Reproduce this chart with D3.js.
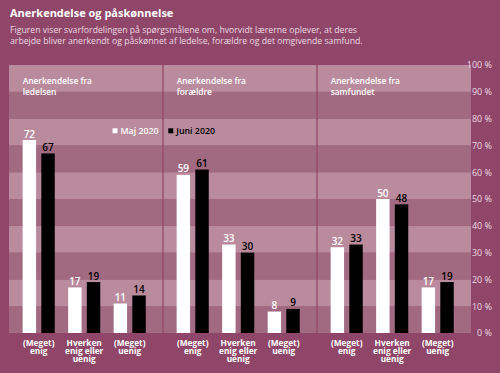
<!DOCTYPE html>
<html>
<head>
<meta charset="utf-8">
<script src="https://cdn.jsdelivr.net/npm/d3@7"></script>
<style>
  html, body { margin: 0; padding: 0; background: #8f4669; }
  svg { display: block; }
  text { font-family: "Open Sans", "Noto Sans", sans-serif; }
</style>
</head>
<body>
<svg id="chart" width="500" height="373"></svg>
<script>
// ---- Data ----
const panels = ["Anerkendelse fra ledelsen", "Anerkendelse fra forældre", "Anerkendelse fra samfundet"];
const panelTitleLines = [["Anerkendelse fra", "ledelsen"], ["Anerkendelse fra", "forældre"], ["Anerkendelse fra", "samfundet"]];
const categories = ["(Meget) enig", "Hverken enig eller uenig", "(Meget) uenig"];
const categoryLines = [["(Meget)", "enig"], ["Hverken", "enig eller", "uenig"], ["(Meget)", "uenig"]];
const seriesNames = ["Maj 2020", "Juni 2020"];
const maj2020 = [[72, 17, 11], [59, 33, 8], [32, 50, 17]];
const juni2020 = [[67, 19, 14], [61, 30, 9], [33, 48, 19]];
const yTicks = [0, 10, 20, 30, 40, 50, 60, 70, 80, 90, 100];
const title = "Anerkendelse og påskønnelse";
const subtitle = ["Figuren viser svarfordelingen på spørgsmålene om, hvorvidt lærerne oplever, at deres",
                  "arbejde bliver anerkendt og påskønnet af ledelse, forældre og det omgivende samfund."];

// ---- Layout ----
const svg = d3.select("#chart");
const bg = "#8f4669", lightBand = "#b98b9d", darkBand = "#a26a80";
const plotLeft = 9, plotRight = 471, plotTop = 65, plotBottom = 333;
const seriesColor = {"Maj 2020": "#ffffff", "Juni 2020": "#000000"};

svg.append("rect").attr("width", 500).attr("height", 373).attr("fill", bg);

const y = d3.scaleLinear().domain([0, 100]).range([plotBottom, plotTop]);
const xPanel = d3.scaleBand().domain(panels).range([plotLeft, plotRight]);
const xCat = d3.scalePoint().domain(categories).range([29.7, 120.7]);
const xSer = d3.scaleBand().domain(seriesNames).range([-16.05, 16.05]).paddingInner(0.28);

// bands
const bandPairs = d3.range(0, 100, 10);
svg.append("g").selectAll("rect").data(bandPairs).join("rect")
  .attr("x", plotLeft).attr("width", plotRight - plotLeft)
  .attr("y", d => y(d + 10)).attr("height", d => y(d) - y(d + 10))
  .attr("fill", d => ((d / 10) % 2 === 1) ? lightBand : darkBand);

// panel dividers
svg.append("g").selectAll("line").data(panels.slice(1)).join("line")
  .attr("x1", d => xPanel(d)).attr("x2", d => xPanel(d))
  .attr("y1", plotTop).attr("y2", plotBottom)
  .attr("stroke", "#8f4669").attr("stroke-width", 1.2);

// y axis (labels only)
const yAxis = d3.axisRight(y).tickValues(yTicks).tickSize(0).tickPadding(0)
  .tickFormat(d => d + " %");
const ya = svg.append("g").attr("transform", `translate(492,0)`).call(yAxis);
ya.select(".domain").remove();
ya.selectAll("text").attr("text-anchor", "end").attr("fill", "#ecd9e1")
  .style("font-size", "9px").style("font-family", "'Open Sans', sans-serif");

// title & subtitle
svg.append("text").attr("x", 10).attr("y", 16.5).text(title)
  .attr("fill", "#fff").style("font-size", "11px").style("font-weight", "bold");
svg.selectAll(".sub").data(subtitle).join("text").attr("class", "sub")
  .attr("x", 10).attr("y", (d, i) => 33.3 + i * 10.5).text(d => d)
  .attr("fill", "#ecd9e1").style("font-size", "8.7px");

// panels
panels.forEach((p, pi) => {
  const g = svg.append("g").attr("transform", `translate(${xPanel(p)},0)`);
  g.selectAll(".pt").data(panelTitleLines[pi]).join("text").attr("class", "pt")
    .attr("x", 13.7).attr("y", (d, i) => 84 + i * 10.5).text(d => d)
    .attr("fill", "#fff").style("font-size", "8.4px").style("font-weight", "600");

  categories.forEach((c, ci) => {
    const cx = xCat(c);
    const vals = [maj2020[pi][ci], juni2020[pi][ci]];
    seriesNames.forEach((s, si) => {
      const v = vals[si];
      const x0 = cx + xSer(s);
      g.append("rect").attr("x", x0).attr("width", xSer.bandwidth())
        .attr("y", y(v)).attr("height", y(0) - y(v)).attr("fill", seriesColor[s]);
      g.append("text").attr("x", x0 + xSer.bandwidth() / 2).attr("y", y(v) - 2.5)
        .attr("text-anchor", "middle").text(v)
        .attr("fill", seriesColor[s]).style("font-size", "10px").style("font-weight", "600");
    });
    g.selectAll(null).data(categoryLines[ci]).join("text")
      .attr("x", cx).attr("y", (d, i) => 345.6 + i * 8.3).attr("text-anchor", "middle")
      .text(d => d).attr("fill", "#fff").style("font-size", "8.3px").style("font-weight", "bold");
  });
});

// legend
const legend = [{s: "Maj 2020", x: 112.5}, {s: "Juni 2020", x: 168.3}];
legend.forEach(l => {
  svg.append("rect").attr("x", l.x).attr("y", 128.3).attr("width", 5).attr("height", 5)
    .attr("fill", seriesColor[l.s]);
  svg.append("text").attr("x", l.x + 8).attr("y", 133.6).text(l.s)
    .attr("fill", seriesColor[l.s]).style("font-size", "8.8px").style("font-weight", "600");
});
</script>
</body>
</html>
